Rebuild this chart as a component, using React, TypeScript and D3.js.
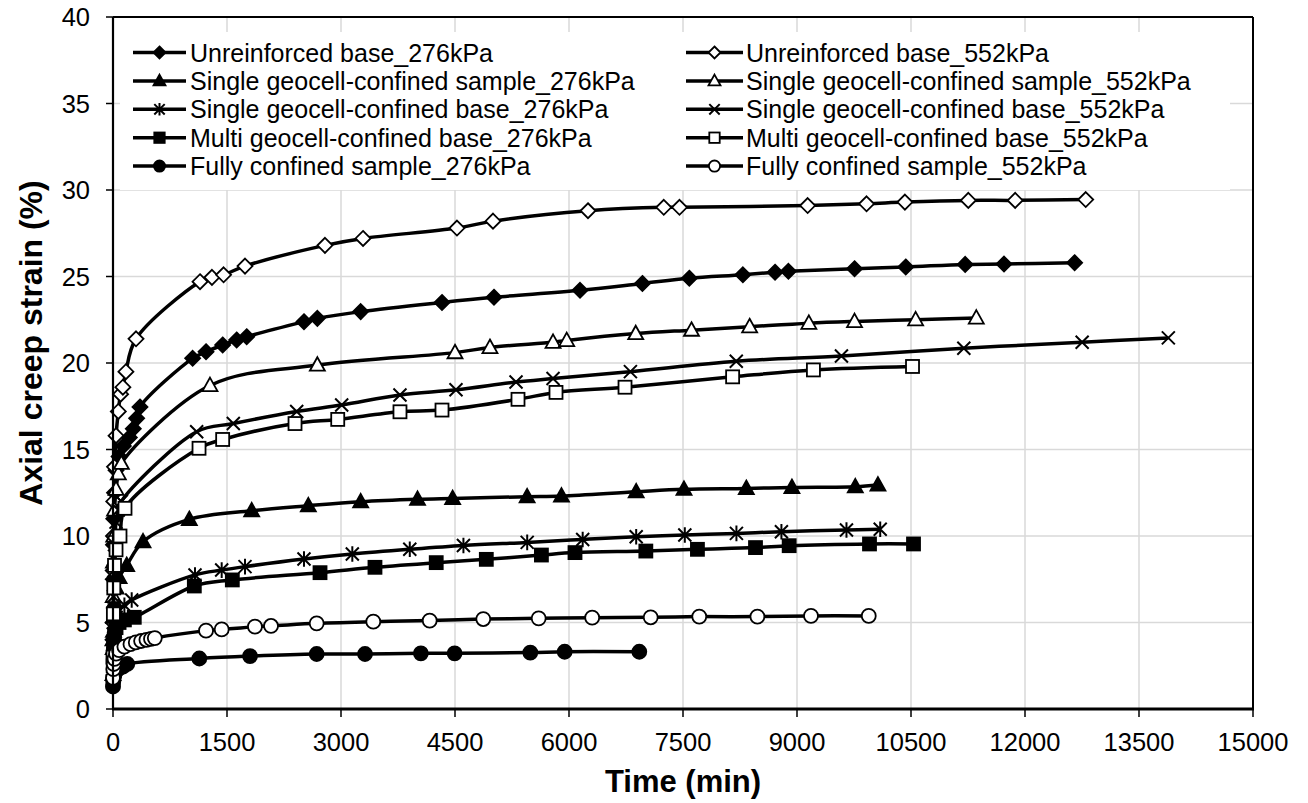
import React from "react";
import * as d3 from "d3";

const WIDTH = 1308;
const HEIGHT = 803;

const X_TICKS = [0, 1500, 3000, 4500, 6000, 7500, 9000, 10500, 12000, 13500, 15000];
const Y_TICKS = [0, 5, 10, 15, 20, 25, 30, 35, 40];
const X_TITLE = "Time (min)";
const Y_TITLE = "Axial creep strain (%)";

// Unreinforced base 276 kPa
const ub276Time = [0, 3, 6, 10, 20, 40, 80, 136, 215, 267, 311, 355, 1048, 1224, 1443, 1627, 1759, 2513, 2689, 3259, 4329, 5013, 6145, 6966, 7583, 8288, 8711, 8887, 9757, 10431, 11213, 11724, 12653];
const ub276Strain = [4.0, 7.5, 9.5, 11.0, 12.5, 13.8, 14.6, 15.2, 15.7, 16.2, 16.8, 17.46, 20.27, 20.65, 21.04, 21.33, 21.52, 22.39, 22.58, 22.97, 23.5, 23.8, 24.2, 24.6, 24.9, 25.1, 25.25, 25.3, 25.45, 25.55, 25.7, 25.72, 25.8];

// Unreinforced base 552 kPa
const ub552Time = [0, 3, 6, 10, 20, 40, 70, 100, 130, 170, 303, 1145, 1302, 1455, 1737, 2789, 3290, 4526, 5000, 6250, 7247, 7454, 9140, 9915, 10420, 11254, 11871, 12799];
const ub552Strain = [5.0, 8.0, 10.0, 12.0, 14.0, 15.8, 17.2, 18.2, 18.6, 19.5, 21.4, 24.7, 24.95, 25.1, 25.6, 26.8, 27.2, 27.8, 28.2, 28.8, 29.0, 29.0, 29.1, 29.2, 29.3, 29.4, 29.4, 29.45];

// Single geocell-confined sample 276 kPa
const sgs276Time = [0, 3, 6, 10, 20, 40, 80, 180, 395, 1004, 1825, 2570, 3259, 4007, 4469, 5449, 5901, 6884, 7513, 8333, 8933, 9767, 10065];
const sgs276Strain = [2.0, 3.5, 4.5, 5.3, 6.2, 7.0, 7.6, 8.3, 9.67, 10.96, 11.46, 11.75, 11.98, 12.12, 12.17, 12.27, 12.31, 12.56, 12.7, 12.75, 12.81, 12.85, 12.95];

// Single geocell-confined sample 552 kPa
const sgs552Time = [0, 3, 6, 10, 20, 40, 70, 110, 1276, 2689, 4500, 4960, 5790, 5970, 6878, 7612, 8377, 9156, 9757, 10561, 11359];
const sgs552Strain = [4.0, 6.5, 8.5, 10.0, 11.5, 12.7, 13.6, 14.2, 18.7, 19.88, 20.6, 20.9, 21.2, 21.3, 21.7, 21.9, 22.1, 22.3, 22.4, 22.5, 22.6];

// Single geocell-confined base 276 kPa
const sgb276Time = [0, 3, 6, 10, 20, 40, 80, 150, 246, 1079, 1430, 1737, 2513, 3149, 3905, 4611, 5450, 6180, 6884, 7524, 8203, 8795, 9651, 10095];
const sgb276Strain = [1.8, 2.8, 3.5, 4.1, 4.8, 5.3, 5.7, 6.0, 6.3, 7.75, 8.03, 8.23, 8.67, 8.96, 9.23, 9.45, 9.63, 9.8, 9.96, 10.06, 10.15, 10.25, 10.35, 10.39];

// Single geocell-confined base 552 kPa
const sgb552Time = [0, 3, 6, 10, 20, 40, 70, 110, 1101, 1583, 2417, 3009, 3776, 4513, 5303, 5790, 6808, 8201, 9585, 11195, 12752, 13886];
const sgb552Strain = [3.0, 5.0, 6.5, 8.0, 9.5, 10.8, 11.5, 12.0, 16.03, 16.5, 17.2, 17.57, 18.15, 18.45, 18.9, 19.1, 19.5, 20.1, 20.4, 20.85, 21.2, 21.45];

// Multi geocell-confined base 276 kPa
const mb276Time = [0, 3, 6, 10, 20, 40, 80, 150, 280, 1070, 1570, 2724, 3447, 4253, 4912, 5637, 6079, 7011, 7690, 8454, 8897, 9954, 10533];
const mb276Strain = [1.6, 2.5, 3.2, 3.8, 4.3, 4.7, 5.0, 5.15, 5.3, 7.11, 7.46, 7.88, 8.19, 8.46, 8.65, 8.9, 9.04, 9.13, 9.23, 9.33, 9.44, 9.54, 9.54];

// Multi geocell-confined base 552 kPa
const mb552Time = [0, 5, 10, 20, 40, 92, 158, 1132, 1443, 2395, 2957, 3776, 4329, 5329, 5829, 6737, 8153, 9216, 10520];
const mb552Strain = [3.0, 5.5, 7.0, 8.3, 9.2, 10.0, 11.6, 15.07, 15.58, 16.5, 16.74, 17.18, 17.28, 17.9, 18.3, 18.6, 19.2, 19.6, 19.8];

// Fully confined sample 276 kPa
const fc276Time = [0, 5, 10, 20, 40, 80, 130, 188, 1136, 1803, 2680, 3316, 4051, 4495, 5491, 5943, 6925];
const fc276Strain = [1.3, 1.6, 1.8, 2.0, 2.2, 2.35, 2.45, 2.6, 2.92, 3.06, 3.18, 3.18, 3.22, 3.22, 3.26, 3.31, 3.31];

// Fully confined sample 552 kPa
const fc552Time = [0, 5, 10, 20, 40, 80, 150, 230, 300, 370, 440, 500, 550, 1224, 1430, 1868, 2079, 2680, 3425, 4167, 4872, 5601, 6305, 7075, 7714, 8479, 9184, 9944];
const fc552Strain = [1.8, 2.3, 2.6, 2.9, 3.2, 3.4, 3.6, 3.75, 3.85, 3.93, 4.0, 4.05, 4.1, 4.53, 4.6, 4.76, 4.8, 4.95, 5.05, 5.11, 5.2, 5.24, 5.28, 5.3, 5.34, 5.34, 5.38, 5.38];

const LEGEND_276 = [
  "Unreinforced base_276kPa",
  "Single geocell-confined sample_276kPa",
  "Single geocell-confined base_276kPa",
  "Multi geocell-confined base_276kPa",
  "Fully confined sample_276kPa",
];
const LEGEND_552 = [
  "Unreinforced base_552kPa",
  "Single geocell-confined sample_552kPa",
  "Single geocell-confined base_552kPa",
  "Multi geocell-confined base_552kPa",
  "Fully confined sample_552kPa",
];

type Marker = "diamond" | "triangle" | "asterisk" | "x" | "square" | "circle";

const zip = (t: number[], v: number[]) => t.map((tt, i) => ({ t: tt, v: v[i] }));

const SERIES = [
  { name: LEGEND_276[0], data: zip(ub276Time, ub276Strain), marker: "diamond" as Marker, filled: true, row: 0, col: 0 },
  { name: LEGEND_552[0], data: zip(ub552Time, ub552Strain), marker: "diamond" as Marker, filled: false, row: 0, col: 1 },
  { name: LEGEND_276[1], data: zip(sgs276Time, sgs276Strain), marker: "triangle" as Marker, filled: true, row: 1, col: 0 },
  { name: LEGEND_552[1], data: zip(sgs552Time, sgs552Strain), marker: "triangle" as Marker, filled: false, row: 1, col: 1 },
  { name: LEGEND_276[2], data: zip(sgb276Time, sgb276Strain), marker: "asterisk" as Marker, filled: true, row: 2, col: 0 },
  { name: LEGEND_552[2], data: zip(sgb552Time, sgb552Strain), marker: "x" as Marker, filled: true, row: 2, col: 1 },
  { name: LEGEND_276[3], data: zip(mb276Time, mb276Strain), marker: "square" as Marker, filled: true, row: 3, col: 0 },
  { name: LEGEND_552[3], data: zip(mb552Time, mb552Strain), marker: "square" as Marker, filled: false, row: 3, col: 1 },
  { name: LEGEND_276[4], data: zip(fc276Time, fc276Strain), marker: "circle" as Marker, filled: true, row: 4, col: 0 },
  { name: LEGEND_552[4], data: zip(fc552Time, fc552Strain), marker: "circle" as Marker, filled: false, row: 4, col: 1 },
];

const FONT = "'Liberation Sans', Arial, Helvetica, sans-serif";

function MarkerShape({ type, filled, x, y, s = 1 }: { type: Marker; filled: boolean; x: number; y: number; s?: number }) {
  const fill = filled ? "#000" : "#fff";
  const sw = 1.8;
  if (type === "diamond") {
    const r = 7.5 * s;
    return <path d={`M${x},${y - r}L${x + r},${y}L${x},${y + r}L${x - r},${y}Z`} fill={fill} stroke="#000" strokeWidth={sw} />;
  }
  if (type === "triangle") {
    const r = 7.5 * s;
    return <path d={`M${x},${y - r * 1.05}L${x + r},${y + r * 0.75}L${x - r},${y + r * 0.75}Z`} fill={fill} stroke="#000" strokeWidth={sw} />;
  }
  if (type === "square") {
    const r = 6.5 * s;
    return <rect x={x - r} y={y - r} width={2 * r} height={2 * r} fill={fill} stroke="#000" strokeWidth={sw} />;
  }
  if (type === "circle") {
    const r = 7 * s;
    return <circle cx={x} cy={y} r={r} fill={fill} stroke="#000" strokeWidth={sw} />;
  }
  if (type === "x") {
    const r = 6.5 * s;
    return <path d={`M${x - r},${y - r}L${x + r},${y + r}M${x - r},${y + r}L${x + r},${y - r}`} fill="none" stroke="#000" strokeWidth={2} />;
  }
  const r = 6.5 * s;
  return (
    <path
      d={`M${x - r},${y - r}L${x + r},${y + r}M${x - r},${y + r}L${x + r},${y - r}M${x},${y - r * 1.2}L${x},${y + r * 1.2}`}
      fill="none"
      stroke="#000"
      strokeWidth={2}
    />
  );
}

export default function App() {
  const left = 113;
  const right = 1253;
  const top = 17;
  const bottom = 709;

  const x = d3.scaleLinear().domain([0, 15000]).range([left, right]);
  const y = d3.scaleLinear().domain([0, 40]).range([bottom, top]);

  const line = d3
    .line<{ t: number; v: number }>()
    .x((d) => x(d.t))
    .y((d) => y(d.v))
    .curve(d3.curveCatmullRom.alpha(0.5));

  const legendRowY = (r: number) => 52.5 + r * 28.4;
  const legendCols = [
    { x1: 133, x2: 186, mx: 159.5, tx: 190 },
    { x1: 686, x2: 743, mx: 714.5, tx: 746 },
  ];

  return (
    <svg
      width={WIDTH}
      height={HEIGHT}
      style={{ position: "absolute", left: 0, top: 0, background: "#fff" }}
      fontFamily={FONT}
    >
      <rect x={0} y={0} width={WIDTH} height={HEIGHT} fill="#fff" />
      {/* gridlines */}
      {X_TICKS.slice(1).map((t) => (
        <line key={"gx" + t} x1={x(t)} x2={x(t)} y1={top} y2={bottom} stroke="#d9d9d9" strokeWidth={1.5} />
      ))}
      {Y_TICKS.slice(1).map((v) => (
        <line key={"gy" + v} x1={left} x2={right} y1={y(v)} y2={y(v)} stroke="#d9d9d9" strokeWidth={1.5} />
      ))}

      {/* legend background */}
      <rect x={120} y={32} width={1110} height={158} fill="#fff" />

      {/* frame */}
      <line x1={left} x2={right} y1={top} y2={top} stroke="#000" strokeWidth={2} />
      <line x1={right} x2={right} y1={top} y2={bottom} stroke="#000" strokeWidth={2} />

      {/* series */}
      {SERIES.map((s, i) => (
        <g key={"s" + i}>
          <path d={line(s.data) || ""} fill="none" stroke="#000" strokeWidth={3.5} strokeLinejoin="round" />
          {s.data.map((d, j) => (
            <MarkerShape key={j} type={s.marker} filled={s.filled} x={x(d.t)} y={y(d.v)} />
          ))}
        </g>
      ))}

      {/* axes */}
      <line x1={left} x2={left} y1={top} y2={bottom} stroke="#000" strokeWidth={2.2} />
      <line x1={left - 1} x2={right + 1} y1={bottom} y2={bottom} stroke="#000" strokeWidth={3} />
      {Y_TICKS.map((v) => (
        <g key={"yt" + v}>
          <line x1={left - 7} x2={left} y1={y(v)} y2={y(v)} stroke="#000" strokeWidth={1.5} />
          <text x={90} y={y(v) + 9} textAnchor="end" fontSize={25.5} fill="#000">
            {v}
          </text>
        </g>
      ))}
      {X_TICKS.map((t) => (
        <g key={"xt" + t}>
          <line x1={x(t)} x2={x(t)} y1={bottom} y2={bottom + 8} stroke="#000" strokeWidth={1.5} />
          <text x={x(t)} y={751} textAnchor="middle" fontSize={25.5} fill="#000">
            {t}
          </text>
        </g>
      ))}

      <text x={(left + right) / 2} y={792} textAnchor="middle" fontSize={31} fontWeight="bold" fill="#000">
        {X_TITLE}
      </text>
      <text
        transform={`translate(42, 343) rotate(-90)`}
        textAnchor="middle"
        fontSize={32}
        fontWeight="bold"
        fill="#000"
      >
        {Y_TITLE}
      </text>

      {/* legend */}
      {SERIES.map((s, i) => {
        const c = legendCols[s.col];
        const ly = legendRowY(s.row);
        return (
          <g key={"lg" + i}>
            <line x1={c.x1} x2={c.x2} y1={ly} y2={ly} stroke="#000" strokeWidth={3.5} />
            <MarkerShape type={s.marker} filled={s.filled} x={c.mx} y={ly} s={0.8} />
            <text x={c.tx} y={ly + 9} fontSize={25} fill="#000">
              {s.name}
            </text>
          </g>
        );
      })}
    </svg>
  );
}
